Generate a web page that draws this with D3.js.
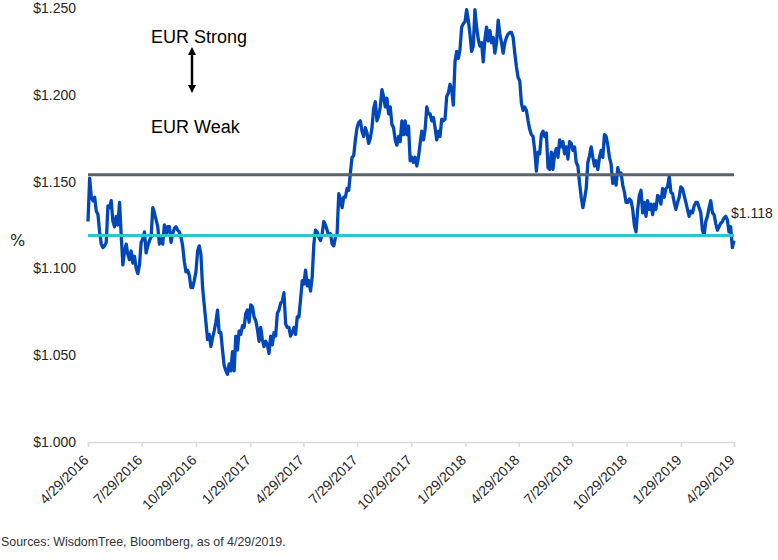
<!DOCTYPE html>
<html>
<head>
<meta charset="utf-8">
<script src="https://cdn.jsdelivr.net/npm/d3@7"></script>
<style>
  body { margin: 0; background: #fff; }
  svg { display: block; }
  .tick text { font-family: "Liberation Sans", Arial, sans-serif; font-size: 14px; fill: #262626; }
</style>
</head>
<body>
<div id="chart"></div>
<script>
// EUR/USD, 4/29/2016 - 4/29/2019 (evenly spaced in time)
var startDate = new Date(2016, 3, 29);
var endDate = new Date(2019, 3, 29);

var fxValues = [
    1.127, 1.152, 1.141, 1.139, 1.141, 1.133, 1.131, 1.121, 1.114, 1.112,
    1.113, 1.115, 1.136, 1.135, 1.139, 1.127, 1.124, 1.130, 1.125, 1.138,
    1.119, 1.102, 1.110, 1.114, 1.108, 1.105, 1.110, 1.103, 1.107, 1.100,
    1.097, 1.102, 1.115, 1.117, 1.121, 1.109, 1.113, 1.116, 1.118, 1.135,
    1.132, 1.128, 1.124, 1.114, 1.117, 1.114, 1.125, 1.119, 1.124, 1.124,
    1.115, 1.120, 1.123, 1.124, 1.122, 1.121, 1.118, 1.113, 1.104, 1.098,
    1.099, 1.096, 1.089, 1.089, 1.093, 1.098, 1.110, 1.113, 1.108, 1.089,
    1.079, 1.069, 1.059, 1.062, 1.055, 1.060, 1.064, 1.069, 1.076,
    1.063, 1.063, 1.053, 1.044, 1.041, 1.039, 1.045, 1.041, 1.052, 1.041,
    1.061, 1.053, 1.064, 1.062, 1.067, 1.066, 1.074, 1.076, 1.069, 1.079,
    1.078, 1.072, 1.070, 1.065, 1.058, 1.066, 1.059, 1.055, 1.058, 1.056,
    1.051, 1.061, 1.056, 1.063, 1.061, 1.074, 1.076, 1.080, 1.081, 1.086,
    1.068, 1.066, 1.066, 1.061, 1.063, 1.066, 1.062, 1.072, 1.072, 1.082,
    1.093, 1.091, 1.099, 1.090, 1.093, 1.087, 1.095, 1.114, 1.122, 1.121,
    1.118, 1.116, 1.120, 1.127, 1.125, 1.122, 1.119, 1.120, 1.114, 1.113,
    1.118, 1.120, 1.143, 1.140, 1.135, 1.141, 1.141, 1.146, 1.145,
    1.155, 1.164, 1.165, 1.174, 1.181, 1.184, 1.185, 1.179, 1.176, 1.181,
    1.178, 1.172, 1.175, 1.181, 1.192, 1.196, 1.185, 1.188, 1.193, 1.203,
    1.199, 1.193, 1.198, 1.189, 1.193, 1.183, 1.181, 1.174, 1.171, 1.176,
    1.173, 1.185, 1.177, 1.185, 1.177, 1.182, 1.162, 1.164, 1.161, 1.164,
    1.159, 1.164, 1.172, 1.179, 1.174, 1.180, 1.193, 1.189, 1.189, 1.185,
    1.187, 1.181, 1.174, 1.179, 1.176,
    1.186, 1.185, 1.186, 1.199, 1.201, 1.206, 1.203, 1.194, 1.219, 1.225,
    1.221, 1.226, 1.239, 1.241, 1.242, 1.249, 1.243, 1.235, 1.225, 1.228,
    1.249, 1.239, 1.232, 1.228, 1.230, 1.219, 1.232, 1.239, 1.231, 1.237,
    1.230, 1.233, 1.224, 1.230, 1.243, 1.235, 1.230, 1.224, 1.230, 1.233,
    1.235, 1.236, 1.236, 1.233, 1.224, 1.216, 1.210, 1.208, 1.195, 1.191,
    1.193, 1.191, 1.185, 1.180, 1.177, 1.176, 1.168, 1.156, 1.167, 1.166,
    1.177, 1.179, 1.176, 1.178, 1.158, 1.157, 1.167, 1.157, 1.166, 1.169,
    1.164, 1.174, 1.170, 1.173, 1.166, 1.170, 1.163, 1.173,
    1.172, 1.168, 1.170, 1.161, 1.159, 1.149, 1.141, 1.135, 1.140, 1.146,
    1.161, 1.165, 1.170, 1.164, 1.159, 1.162, 1.157, 1.164, 1.168, 1.164,
    1.177, 1.176, 1.171, 1.164, 1.160, 1.149, 1.153, 1.148, 1.158, 1.154,
    1.155, 1.148, 1.144, 1.138, 1.138, 1.140, 1.139, 1.134, 1.125, 1.121,
    1.134, 1.142, 1.145, 1.132, 1.138, 1.130, 1.139, 1.134, 1.137, 1.131,
    1.137, 1.134, 1.142, 1.141, 1.137, 1.146, 1.141, 1.146, 1.147, 1.153,
    1.144, 1.143, 1.138, 1.134, 1.138, 1.141, 1.147, 1.146, 1.142, 1.138,
    1.134, 1.130, 1.133, 1.132, 1.136, 1.138, 1.138, 1.135, 1.132, 1.122,
    1.119, 1.127, 1.130, 1.135, 1.139, 1.132, 1.131, 1.126, 1.122, 1.124,
    1.126, 1.127, 1.129, 1.130, 1.128, 1.121, 1.124, 1.112, 1.116
];

// horizontal reference levels
var refValues = [1.154, 1.119];
var refColors = ["#58636b", "#2fc5cc"];

var yTicks = [1.0, 1.05, 1.1, 1.15, 1.2, 1.25];
var xTicks = [
    "4/29/2016", "7/29/2016", "10/29/2016", "1/29/2017", "4/29/2017", "7/29/2017",
    "10/29/2017", "1/29/2018", "4/29/2018", "7/29/2018", "10/29/2018", "1/29/2019", "4/29/2019"
];
var lastLabel = "$1.118";
var sourceText = "Sources: WisdomTree, Bloomberg, as of 4/29/2019.";

var width = 778;
var height = 560;
var margin = { left: 88, right: 44, top: 8, bottom: 118 };

var parseDate = d3.timeParse("%m/%d/%Y");
var fmtDate = d3.timeFormat("%-m/%-d/%Y");

var step = (endDate - startDate) / (fxValues.length - 1);
var series = fxValues.map((v, i) => ({ date: new Date(+startDate + i * step), value: v }));

var svg = d3.select("#chart").append("svg")
    .attr("width", width)
    .attr("height", height);

var x = d3.scaleTime()
    .domain([startDate, endDate])
    .range([margin.left, width - margin.right]);

var y = d3.scaleLinear()
    .domain([1.0, 1.25])
    .range([height - margin.bottom, margin.top]);

// y axis (labels only)
var yAxis = svg.append("g")
    .attr("transform", `translate(${margin.left},0)`)
    .call(d3.axisLeft(y)
        .tickValues(yTicks)
        .tickSize(0)
        .tickPadding(12)
        .tickFormat(d => "$" + d3.format(".3f")(d)));
yAxis.select(".domain").remove();

// x axis
var xAxis = svg.append("g")
    .attr("transform", `translate(0,${y(1.0)})`)
    .call(d3.axisBottom(x)
        .tickValues(xTicks.map(parseDate))
        .tickSize(5)
        .tickFormat(fmtDate));
xAxis.select(".domain").attr("stroke", "#d9d9d9").attr("stroke-width", 1.5);
xAxis.selectAll(".tick line").attr("stroke", "#d9d9d9").attr("stroke-width", 1.5);
xAxis.selectAll(".tick text")
    .attr("text-anchor", "end")
    .attr("dy", null)
    .attr("y", 0)
    .attr("transform", "translate(1,19) rotate(-45)");

// the EUR/USD line
var line = d3.line()
    .x(d => x(d.date))
    .y(d => y(d.value));

svg.append("path")
    .datum(series)
    .attr("fill", "none")
    .attr("stroke", "#0048ba")
    .attr("stroke-width", 3.3)
    .attr("stroke-linejoin", "round")
    .attr("d", line);

// reference lines
svg.selectAll(".ref")
    .data(refValues)
    .join("line")
    .attr("class", "ref")
    .attr("x1", x(startDate))
    .attr("x2", x(endDate))
    .attr("y1", d => y(d))
    .attr("y2", d => y(d))
    .attr("stroke", (d, i) => refColors[i])
    .attr("stroke-width", 3);

// last value label
svg.append("text")
    .attr("x", x(endDate) - 3)
    .attr("y", y(refValues[1]) - 17)
    .attr("font-family", "Liberation Sans, Arial, sans-serif")
    .attr("font-size", 14)
    .attr("fill", "#262626")
    .text(lastLabel);

// y title
svg.append("text")
    .attr("x", 10)
    .attr("y", 246)
    .attr("font-family", "DejaVu Sans, sans-serif")
    .attr("font-size", 16)
    .attr("fill", "#262626")
    .text("%");

// EUR strong / weak annotation
svg.append("defs").append("marker")
    .attr("id", "head")
    .attr("viewBox", "0 0 10 10")
    .attr("refX", 5)
    .attr("refY", 5)
    .attr("markerWidth", 3.2)
    .attr("markerHeight", 3.2)
    .attr("orient", "auto-start-reverse")
    .append("path")
    .attr("d", "M0,0 L10,5 L0,10 z")
    .attr("fill", "#000");

svg.append("line")
    .attr("x1", 192).attr("x2", 192)
    .attr("y1", 51).attr("y2", 89)
    .attr("stroke", "#000")
    .attr("stroke-width", 2.5)
    .attr("marker-start", "url(#head)")
    .attr("marker-end", "url(#head)");

svg.append("text")
    .attr("x", 151)
    .attr("y", 43)
    .attr("font-family", "Liberation Sans, Arial, sans-serif")
    .attr("font-size", 18)
    .attr("fill", "#000")
    .text("EUR Strong");

svg.append("text")
    .attr("x", 151)
    .attr("y", 133)
    .attr("font-family", "Liberation Sans, Arial, sans-serif")
    .attr("font-size", 18)
    .attr("fill", "#000")
    .text("EUR Weak");

// source note
svg.append("text")
    .attr("x", 1)
    .attr("y", 546)
    .attr("font-family", "Liberation Sans, Arial, sans-serif")
    .attr("font-size", 12.4)
    .attr("fill", "#333")
    .text(sourceText);
</script>
</body>
</html>
